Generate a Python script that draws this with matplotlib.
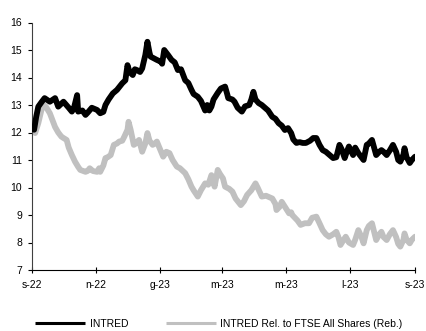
import numpy as np
import matplotlib
matplotlib.use("Agg")
import matplotlib.pyplot as plt

plt.rcParams['font.family'] = ['Liberation Sans', 'DejaVu Sans']

# days since 1 Sep 2022
intred_days = [2, 4, 6, 9, 12, 17, 22, 25, 30, 35, 38, 40, 43, 44, 48, 51, 53, 57, 62, 65,
               68, 70, 73, 77, 81, 86, 89, 91, 93, 96, 98, 100, 103, 105, 108, 110, 112, 113,
               116, 119, 123, 124, 126, 130, 133, 136, 139, 142, 146, 149, 152, 154, 158, 161,
               165, 167, 169, 171, 173, 177, 180, 184, 186, 187, 191, 193, 196, 200, 203, 207,
               209, 211, 213, 216, 219, 222, 225, 229, 232, 235, 238, 241, 244, 247, 249, 252,
               255, 258, 261, 265, 268, 271, 274, 277, 280, 283, 287, 290, 293, 295, 298, 300,
               302, 306, 308, 311, 314, 316, 319, 321, 324, 326, 328, 331, 333, 335, 338, 341,
               344, 347, 349, 351, 354, 355, 357, 360, 362, 365]
intred = [12.1, 12.57, 12.94, 13.1, 13.25, 13.12, 13.25, 12.94, 13.12, 12.9, 12.76, 12.9, 13.36,
          12.76, 12.8, 12.64, 12.72, 12.9, 12.82, 12.7, 12.75, 13.0, 13.2, 13.42, 13.55, 13.79,
          13.9, 14.45, 14.2, 14.09, 14.3, 14.27, 14.2, 14.33, 14.82, 15.3, 14.9, 14.76, 14.7,
          14.64, 14.57, 14.5, 15.0, 14.8, 14.64, 14.55, 14.27, 14.3, 13.9, 13.8, 13.55, 13.4,
          13.3, 13.15, 12.8, 13.0, 12.8, 12.94, 13.2, 13.44, 13.6, 13.67, 13.4, 13.25, 13.2,
          13.12, 12.9, 12.76, 12.95, 13.0, 13.2, 13.48, 13.2, 13.07, 13.0, 12.9, 12.8, 12.57,
          12.5, 12.34, 12.25, 12.09, 12.16, 11.98, 11.75, 11.62, 11.65, 11.62, 11.62, 11.7,
          11.8, 11.8, 11.55, 11.36, 11.3, 11.2, 11.07, 11.1, 11.55, 11.4, 11.07, 11.3, 11.49,
          11.18, 11.45, 11.25, 11.1, 11.0, 11.55, 11.6, 11.73, 11.45, 11.18, 11.3, 11.36, 11.3,
          11.18, 11.35, 11.55, 11.3, 11.0, 10.94, 11.2, 11.43, 11.1, 10.89, 11.0, 11.12]

rel_days = [0, 3, 6, 9, 11, 13, 17, 20, 22, 25, 28, 30, 33, 35, 38, 41, 44, 46, 49, 51, 53, 55,
            58, 62, 64, 65, 68, 70, 72, 75, 78, 81, 83, 86, 88, 91, 92, 94, 97, 99, 102, 105,
            108, 110, 112, 115, 117, 119, 123, 125, 128, 131, 134, 138, 141, 146, 149, 152, 154,
            158, 161, 165, 168, 171, 174, 177, 179, 182, 184, 188, 191, 194, 199, 202, 205, 209,
            213, 215, 219, 223, 226, 229, 232, 233, 236, 238, 241, 245, 247, 248, 253, 256, 260,
            264, 267, 271, 274, 277, 280, 283, 287, 290, 292, 294, 297, 299, 302, 306, 308, 311,
            314, 316, 319, 321, 324, 326, 328, 331, 333, 335, 338, 341, 344, 347, 349, 351, 354,
            355, 357, 360, 362, 365]
rel = [12.1, 11.98, 12.34, 12.82, 13.0, 12.95, 12.7, 12.4, 12.2, 12.0, 11.85, 11.8, 11.73, 11.45,
       11.18, 10.94, 10.75, 10.64, 10.6, 10.57, 10.6, 10.7, 10.6, 10.57, 10.7, 10.57, 10.8, 11.07,
       11.1, 11.18, 11.55, 11.6, 11.67, 11.7, 11.85, 12.1, 12.39, 12.1, 11.55, 11.6, 11.73, 11.3,
       11.6, 11.98, 11.7, 11.55, 11.6, 11.67, 11.3, 11.12, 11.3, 11.25, 11.0, 10.76, 10.7, 10.52,
       10.3, 10.03, 9.9, 9.67, 9.9, 10.15, 10.1, 10.45, 10.03, 10.64, 10.5, 10.33, 10.03, 9.95,
       9.85, 9.6, 9.36, 9.5, 9.73, 9.9, 10.15, 10.0, 9.67, 9.7, 9.65, 9.6, 9.4, 9.18, 9.3, 9.48,
       9.3, 9.06, 9.1, 9.0, 8.8, 8.64, 8.7, 8.7, 8.9, 8.94, 8.7, 8.45, 8.3, 8.21, 8.3, 8.39, 8.2,
       7.91, 8.1, 8.21, 8.0, 7.91, 8.1, 8.45, 8.2, 7.97, 8.45, 8.6, 8.7, 8.4, 8.09, 8.3, 8.39,
       8.2, 8.09, 8.3, 8.45, 8.2, 7.95, 7.85, 8.1, 8.33, 8.1, 7.97, 8.1, 8.21]

tick_days = [0, 61, 122, 181, 242, 303, 365]
tick_labels = ["s-22", "n-22", "g-23", "m-23", "m-23", "l-23", "s-23"]

fig = plt.figure(figsize=(4.26, 3.31), dpi=100)
ax = fig.add_axes([32 / 426, 1 - 270 / 331, 383 / 426, 247.5 / 331])

ax.plot(intred_days, intred, color="black", lw=4.2, solid_joinstyle="round",
        solid_capstyle="round", label="INTRED", zorder=3)
ax.plot(rel_days, rel, color="#c0c0c0", lw=4.2, solid_joinstyle="round",
        solid_capstyle="round", label="INTRED Rel. to FTSE All Shares (Reb.)", zorder=2)

ax.set_xlim(0, 365)
ax.set_ylim(7, 16)
ax.set_yticks(range(7, 17))
ax.set_xticks(tick_days)
ax.set_xticklabels(tick_labels)
ax.tick_params(axis="y", direction="out", length=3, width=0.8, pad=4, labelsize=7.5)
ax.tick_params(axis="x", direction="inout", length=4, width=0.8, pad=5, labelsize=7.5)
for s in ["top", "right"]:
    ax.spines[s].set_visible(False)
ax.spines["left"].set_color("#404040")
ax.spines["bottom"].set_color("black")

leg = fig.legend(loc="center left", bbox_to_anchor=(35 / 426, 0.022), ncol=2, frameon=False,
                 fontsize=7.5, handlelength=4.8, handletextpad=0.45, columnspacing=3.6,
                 borderpad=0, borderaxespad=0)
for h in leg.legend_handles:
    h.set_linewidth(2.2)
    h.set_solid_capstyle("butt")

fig.savefig("out.png", dpi=100)
